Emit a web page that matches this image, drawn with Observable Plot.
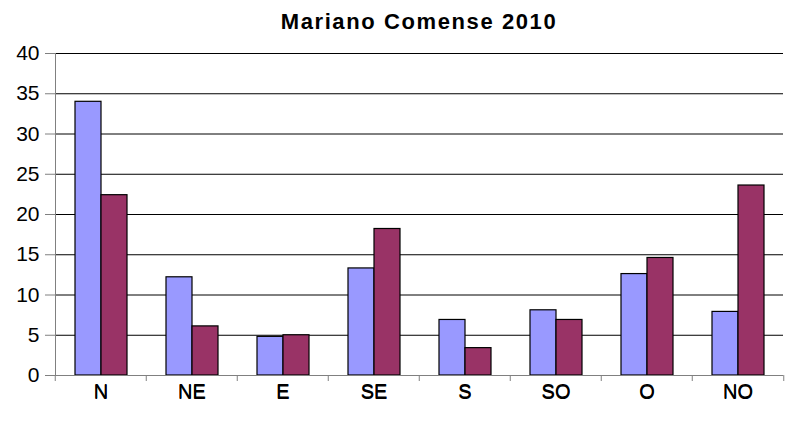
<!DOCTYPE html>
<html>
<head>
<meta charset="utf-8">
<script src="https://cdn.jsdelivr.net/npm/d3@7"></script>
<script src="https://cdn.jsdelivr.net/npm/@observablehq/plot@0.6"></script>
<style>
  html, body { margin: 0; padding: 0; background: #fff; }
  #title { height: 40px; box-sizing: border-box; padding: 9px 6px 0 53px; line-height: 31px;
    text-align: center; font: bold 22px "Liberation Sans", Arial, sans-serif; letter-spacing: 1.6px; color: #000; }
</style>
</head>
<body>
<div id="title">Mariano Comense 2010</div>
<div id="chart"></div>
<script>
const categories = ["N", "NE", "E", "SE", "S", "SO", "O", "NO"];
const seriesNames = ["Serie1", "Serie2"];
const serie1 = [34.0, 12.2, 4.8, 13.3, 6.9, 8.1, 12.6, 7.9];
const serie2 = [22.4, 6.1, 5.0, 18.2, 3.4, 6.9, 14.6, 23.6];
const yTicks = [0, 5, 10, 15, 20, 25, 30, 35, 40];
const colors = ["#9999FF", "#993366"];

const data = categories.flatMap((c, i) => [
  {cat: c, series: seriesNames[0], value: serie1[i]},
  {cat: c, series: seriesNames[1], value: serie2[i]}
]);

const W = 791, H = 381, ML = 53, MR = 6, MT = 13, MB = 46;
const step = (W - ML - MR) / categories.length;

const chart = Plot.plot({
  width: W, height: H,
  marginTop: MT, marginBottom: MB, marginLeft: ML, marginRight: MR,
  style: {fontFamily: "'Liberation Sans', Arial, sans-serif", fontSize: "20px", color: "#000", background: "#fff"},
  fx: {domain: categories, padding: 0, label: null, axis: "bottom"},
  x: {domain: seriesNames, paddingInner: 0, paddingOuter: 0.73, axis: null},
  y: {domain: [0, 40], label: null},
  color: {domain: seriesNames, range: colors},
  marks: [
    Plot.ruleY(yTicks, {stroke: "#000", strokeWidth: 1}),
    Plot.barY(data, {fx: "cat", x: "series", y: "value", fill: "series", stroke: "#000", strokeWidth: 1.2}),
    Plot.ruleY([0], {stroke: "#808080"}),
    Plot.axisY({ticks: yTicks, tickSize: 10, tickPadding: 6, stroke: "#808080", fontSize: 21}),
    Plot.axisFx({anchor: "bottom", tickSize: 0, tickPadding: 8, fontSize: 20, label: null}),
    Plot.axisFx({anchor: "bottom", tickSize: 6, text: null, dx: -step / 2, stroke: "#808080", label: null}),
    Plot.axisFx({anchor: "bottom", ticks: [categories[categories.length - 1]], tickSize: 6, text: null, dx: step / 2, stroke: "#808080", label: null}),
    Plot.frame({anchor: "left", stroke: "#808080", facet: "super"})
  ]
});
document.getElementById("chart").appendChild(chart);
</script>
</body>
</html>
